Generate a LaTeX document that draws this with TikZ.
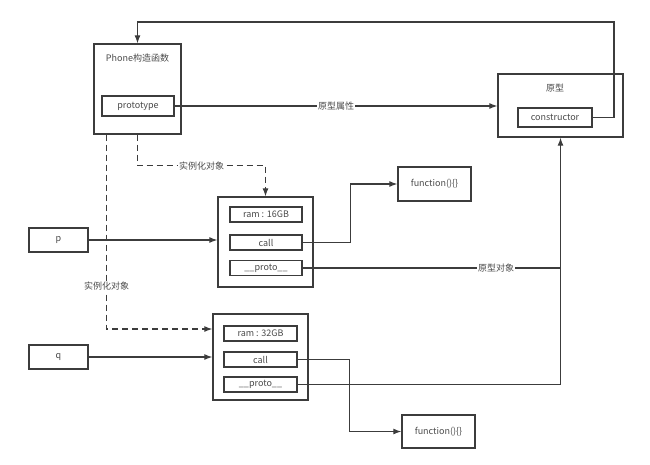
\documentclass[tikz,border=0pt]{standalone}
\usepackage{fontspec}
\setmainfont{Noto Sans CJK SC}
\usepackage{tikz}
\usetikzlibrary{arrows.meta}
\definecolor{linegray}{HTML}{3C3C3C}
\definecolor{textgray}{HTML}{4A4A4A}
\tikzset{
  >={Latex[length=8pt,width=6pt]},
  box/.style={draw=linegray,line width=1.3pt,inner sep=0pt},
  lbl/.style={text=textgray,font=\fontsize{9}{11}\selectfont},
  wire/.style={draw=linegray,line width=1.2pt},
  dashwire/.style={wire,dash pattern=on 6pt off 4pt},
  onwire/.style={lbl,fill=white,inner sep=1pt}
}

\begin{document}
\begin{tikzpicture}[x=1pt,y=-1pt]
\useasboundingbox (0,0) rectangle (650,464);
\node[box,minimum width=87pt,minimum height=90pt] (phone) at (137.5,89) {};
\node[lbl] (phonetitle) at (137.5,58) {Phone构造函数};
\node[box,lbl,minimum width=72pt,minimum height=20pt] (prototype) at (138,106) {prototype};
\node[box,minimum width=125pt,minimum height=63pt] (yuanxing) at (560.5,105.5) {};
\node[lbl] (yuanxingtitle) at (555,88) {原型};
\node[box,lbl,minimum width=74pt,minimum height=19pt] (constructor) at (555,117.5) {constructor};

\node[box,minimum width=95pt,minimum height=90pt] (objp) at (265.5,242) {};
\node[box,lbl,minimum width=72pt,minimum height=15pt] (ramp) at (266,214.5) {ram : 16GB};
\node[box,lbl,minimum width=72pt,minimum height=15pt] (callp) at (266,242.5) {call};
\node[box,lbl,minimum width=72pt,minimum height=15pt] (protop) at (266,268) {\_\_proto\_\_};

\node[box,minimum width=95pt,minimum height=86pt] (objq) at (260.5,357) {};
\node[box,lbl,minimum width=73pt,minimum height=15pt] (ramq) at (260.5,333.5) {ram : 32GB};
\node[box,lbl,minimum width=73pt,minimum height=15pt] (callq) at (260.5,359.5) {call};
\node[box,lbl,minimum width=73pt,minimum height=15pt] (protoq) at (260.5,384.5) {\_\_proto\_\_};

\node[box,lbl,minimum width=73pt,minimum height=34pt] (funp) at (434.5,184) {function()\{\}};
\node[box,lbl,minimum width=73pt,minimum height=33pt] (funq) at (438.5,431.5) {function()\{\}};

\node[box,lbl,minimum width=59pt,minimum height=24pt] (p) at (58.5,240) {p};
\node[box,lbl,minimum width=59pt,minimum height=24pt] (q) at (58.5,357) {q};

\coordinate (topright) at (614,22);
\coordinate (joint) at (560.5,268);

\draw[wire,->] (prototype.east) -- node[onwire] {原型属性} (prototype.east -| yuanxing.west);
\draw[wire,->] (constructor.east) -| (topright) -| (phone.north);
\draw[dashwire,->] (phone.south) -- ++(0,31) -| node[onwire,pos=0.25] {实例化对象} (objp.north);
\draw[dashwire,->] ([xshift=-31pt]phone.south) |- node[onwire,pos=0.39] {实例化对象} ([yshift=28pt]objq.west);
\draw[wire,->] (p.east) -- (p.east -| objp.west);
\draw[wire,->] (q.east) -- (q.east -| objq.west);
\draw[wire,->] (callp.east) -- ++(48,0) |- (funp.west);
\draw[wire,->] (callq.east) -- ++(52,0) |- (funq.west);
\draw[wire] (protop.east) -- node[onwire,pos=0.75] {原型对象} (joint);
\draw[wire,->] (protoq.east) -| (yuanxing.south);
\end{tikzpicture}
\end{document}
